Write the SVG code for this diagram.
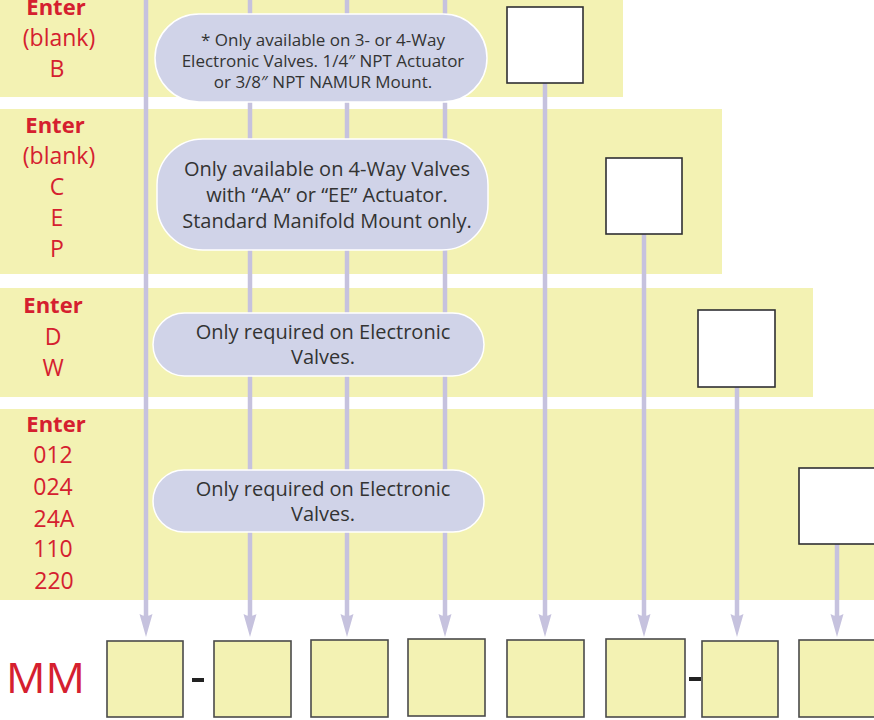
<svg xmlns="http://www.w3.org/2000/svg" width="874" height="720" viewBox="0 0 874 720">
  <style>
    .band { fill: #f3f2b3; }
    .line { stroke: #c6c2de; stroke-width: 4.5; fill: none; }
    .bubble { fill: #d0d3e8; stroke: #ffffff; stroke-width: 1.5; }
    .btxt { font-family: "Open Sans", Lato, sans-serif; fill: #333333; text-anchor: middle; }
    .red { font-family: "Open Sans", Lato, sans-serif; fill: #d5202f; text-anchor: middle; font-size: 23px; }
    .enter { font-weight: bold; font-size: 22px; }
    .wbox { fill: #ffffff; stroke: #2f2f33; stroke-width: 1.6; }
    .ybox { fill: #f3f2b3; stroke: #4a4a4a; stroke-width: 1.6; }
    .dash { fill: #222; }
  </style>

  <g id="bands">
    <rect class="band" x="0" y="0" width="623" height="97"/>
    <rect class="band" x="0" y="109" width="722" height="165"/>
    <rect class="band" x="0" y="288" width="813" height="109"/>
    <rect class="band" x="0" y="409" width="874" height="191"/>
  </g>

  <g id="connectors">
    <line class="line" x1="146" y1="0" x2="146" y2="616"/>
    <line class="line" x1="250" y1="0" x2="250" y2="616"/>
    <line class="line" x1="347" y1="0" x2="347" y2="616"/>
    <line class="line" x1="445" y1="0" x2="445" y2="616"/>
    <line class="line" x1="545" y1="83" x2="545" y2="616"/>
    <line class="line" x1="644" y1="234" x2="644" y2="616"/>
    <line class="line" x1="737" y1="387" x2="737" y2="616"/>
    <line class="line" x1="837" y1="544" x2="837" y2="616"/>
    <g fill="#c6c2de">
      <path d="M139.5,614 Q146,618 152.5,614 L146,637 Z"/>
      <path d="M243.5,614 Q250,618 256.5,614 L250,637 Z"/>
      <path d="M340.5,614 Q347,618 353.5,614 L347,637 Z"/>
      <path d="M438.5,614 Q445,618 451.5,614 L445,637 Z"/>
      <path d="M538.5,614 Q545,618 551.5,614 L545,637 Z"/>
      <path d="M637.5,614 Q644,618 650.5,614 L644,637 Z"/>
      <path d="M730.5,614 Q737,618 743.5,614 L737,637 Z"/>
      <path d="M830.5,614 Q837,618 843.5,614 L837,637 Z"/>
    </g>
  </g>

  <g id="labels-1">
    <text class="red enter" x="56" y="15">Enter</text>
    <text class="red" x="59" y="46">(blank)</text>
    <text class="red" x="57" y="77">B</text>
  </g>
  <g id="labels-2">
    <text class="red enter" x="55" y="133">Enter</text>
    <text class="red" x="59" y="164">(blank)</text>
    <text class="red" x="57" y="195">C</text>
    <text class="red" x="57" y="226">E</text>
    <text class="red" x="57" y="257">P</text>
  </g>
  <g id="labels-3">
    <text class="red enter" x="53" y="313">Enter</text>
    <text class="red" x="53" y="345">D</text>
    <text class="red" x="53" y="376">W</text>
  </g>
  <g id="labels-4">
    <text class="red enter" x="56" y="432">Enter</text>
    <text class="red" x="53" y="463">012</text>
    <text class="red" x="53" y="495">024</text>
    <text class="red" x="54" y="527">24A</text>
    <text class="red" x="53" y="557">110</text>
    <text class="red" x="54" y="589">220</text>
  </g>

  <g id="note-1">
    <rect class="bubble" x="155" y="14" width="332" height="88" rx="44" ry="44"/>
    <text class="btxt" font-size="17" x="323" y="46">* Only available on 3- or 4-Way</text>
    <text class="btxt" font-size="17" x="323" y="67">Electronic Valves. 1/4″ NPT Actuator</text>
    <text class="btxt" font-size="17" x="323" y="88">or 3/8″ NPT NAMUR Mount.</text>
  </g>
  <g id="note-2">
    <rect class="bubble" x="157" y="139" width="331" height="111" rx="46" ry="46"/>
    <text class="btxt" font-size="20" x="327" y="176">Only available on 4-Way Valves</text>
    <text class="btxt" font-size="20" x="327" y="202">with “AA” or “EE” Actuator.</text>
    <text class="btxt" font-size="20" x="327" y="228">Standard Manifold Mount only.</text>
  </g>
  <g id="note-3">
    <rect class="bubble" x="153" y="313" width="331" height="63" rx="31.5" ry="31.5"/>
    <text class="btxt" font-size="20" x="323" y="339">Only required on Electronic</text>
    <text class="btxt" font-size="20" x="323" y="364">Valves.</text>
  </g>
  <g id="note-4">
    <rect class="bubble" x="153" y="470" width="331" height="62" rx="31" ry="31"/>
    <text class="btxt" font-size="20" x="323" y="496">Only required on Electronic</text>
    <text class="btxt" font-size="20" x="323" y="521">Valves.</text>
  </g>

  <g id="input-boxes">
    <rect class="wbox" x="507" y="7" width="76" height="76"/>
    <rect class="wbox" x="606" y="158" width="76" height="76"/>
    <rect class="wbox" x="698" y="310" width="77" height="77"/>
    <rect class="wbox" x="799" y="468" width="80" height="76"/>
  </g>

  <g id="code">
    <text x="6" y="693" font-family="'Open Sans', Lato, sans-serif" font-size="42" fill="#d5202f" textLength="79" lengthAdjust="spacingAndGlyphs">MM</text>
    <rect class="ybox" x="107" y="641" width="76" height="76"/>
    <rect class="dash" x="192" y="678" width="12" height="4"/>
    <rect class="ybox" x="214" y="641" width="77" height="76"/>
    <rect class="ybox" x="311" y="640" width="77" height="77"/>
    <rect class="ybox" x="408" y="639" width="77" height="77"/>
    <rect class="ybox" x="507" y="640" width="77" height="77"/>
    <rect class="ybox" x="606" y="639" width="79" height="78"/>
    <rect class="dash" x="689" y="677" width="12" height="4"/>
    <rect class="ybox" x="702" y="641" width="76" height="76"/>
    <rect class="ybox" x="799" y="640" width="80" height="77"/>
  </g>
</svg>
